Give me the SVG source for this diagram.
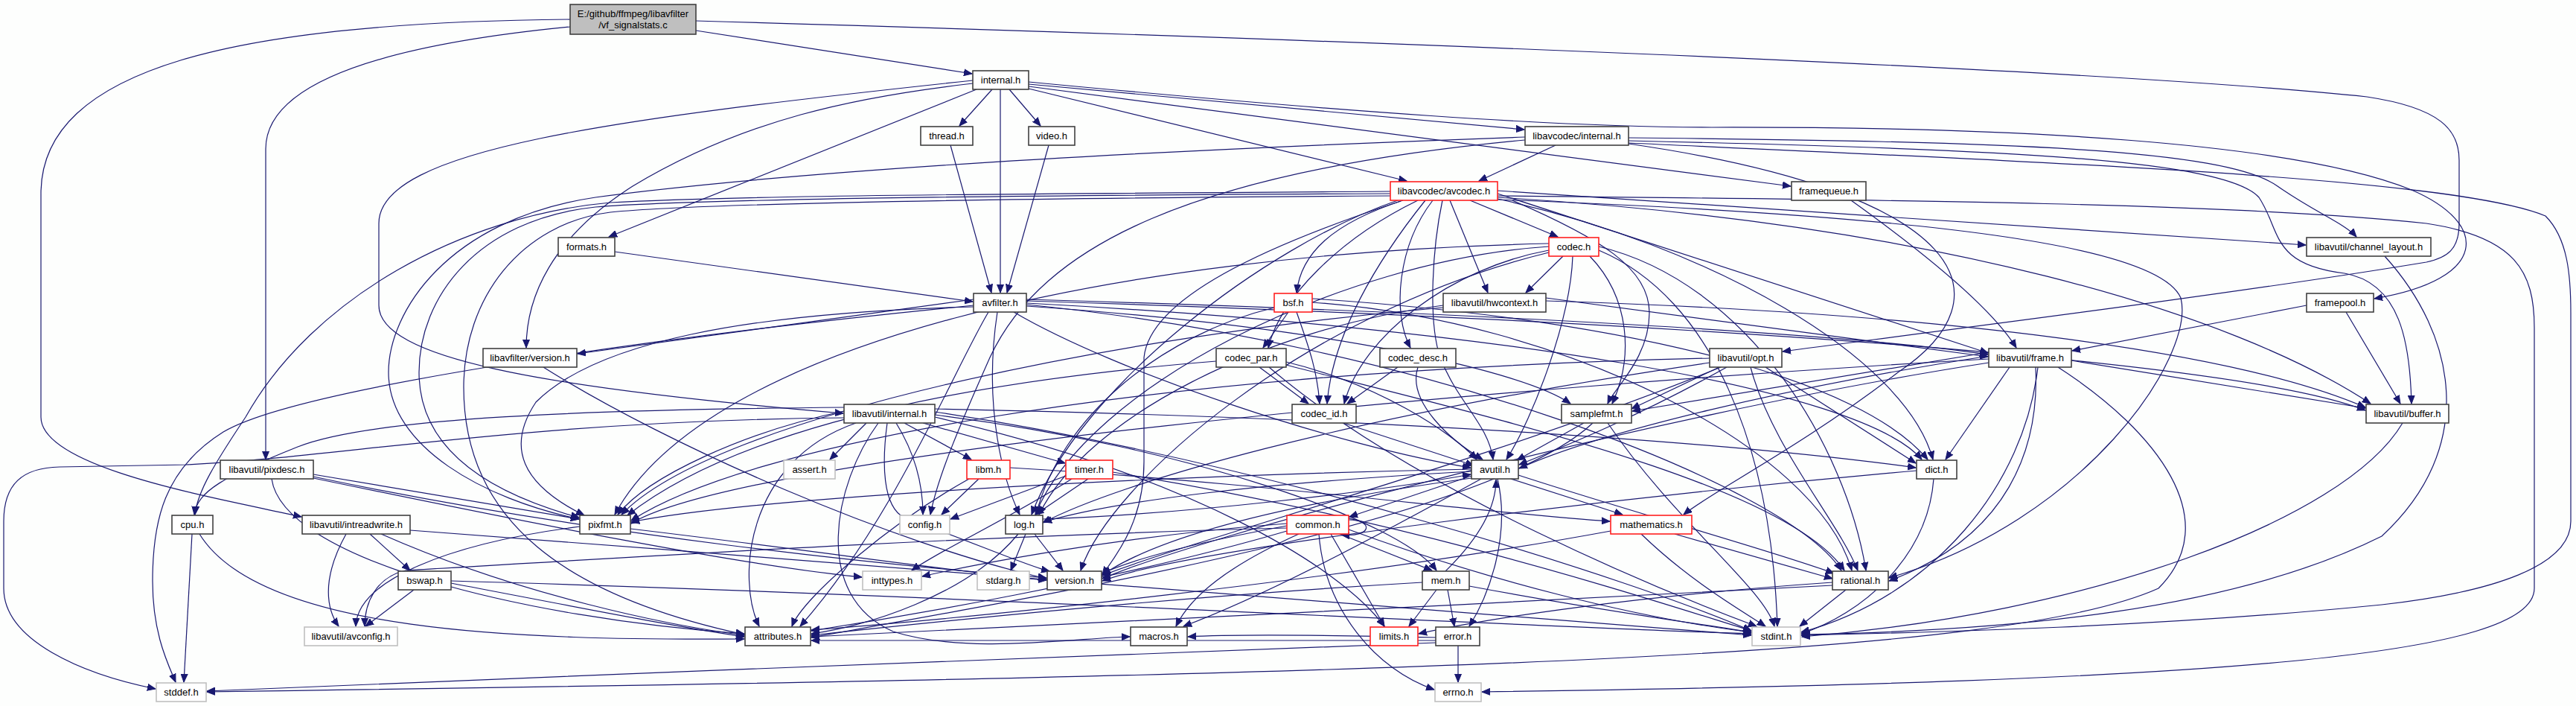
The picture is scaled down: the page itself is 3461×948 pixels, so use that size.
<svg xmlns="http://www.w3.org/2000/svg" width="3461" height="948" viewBox="0 0 3461 948">
<style>
.n rect{fill:#fff;stroke:#404040;stroke-width:1.6}
.n.r rect{stroke:#ff2020}
.n.g rect{stroke:#c0c0c0}
.n.m rect{fill:#bfbfbf}
text{font-family:"Liberation Sans",Arial,sans-serif;font-size:13px;text-anchor:middle;fill:#000}
#edges path{fill:none;stroke:#191970;stroke-width:1.2;marker-end:url(#a)}
</style>
<defs>
<marker id="a" markerUnits="userSpaceOnUse" markerWidth="12" markerHeight="10" refX="11" refY="5" orient="auto">
<path d="M0,0.5 L11,5 L0,9.5 z" fill="#191970" stroke="#191970" stroke-width="1"/>
</marker>
</defs>
<rect width="3461" height="948" fill="#fdfefd"/>
<g id="edges">
<path d="M935,41 L1306,99"/>
<path d="M935,28 C1700,50 2800,90 3180,130 C3280,145 3304,175 3304,215 L3304,300 C3304,335 3288,346 3260,352 C3000,395 2600,445 2395,472"/>
<path d="M766,36 C520,60 357,110 357,200 L357,617"/>
<path d="M766,26 C320,30 55,90 55,260 L55,560 C55,630 300,670 405,694"/>
<path d="M1333,120 L1289,169"/>
<path d="M1356,120 L1398,169"/>
<path d="M1344,120 L1344,393"/>
<path d="M1312,120 L818,318"/>
<path d="M1307,112 C1150,130 1000,160 850,250 C740,320 707,400 707,467"/>
<path d="M1307,108 C820,160 509,200 509,300 L509,410 C509,480 720,520 1133,555"/>
<path d="M1382,113 L2048,174"/>
<path d="M1382,119 L1890,243"/>
<path d="M1382,116 L2406,250"/>
<path d="M1382,110 C1800,150 2100,171 2300,171 C2700,170 3080,190 3240,255 C3345,300 3345,375 3190,401"/>
<path d="M1277,195 L1332,393"/>
<path d="M1409,195 L1353,393"/>
<path d="M826,338 L1307,405"/>
<path d="M730,493 C900,600 1200,730 1406,777"/>
<path d="M2090,195 L1987,243"/>
<path d="M2188,185 C2700,190 2990,200 3060,250 C3110,285 3150,300 3166,318"/>
<path d="M2188,189 C2700,200 2990,215 3035,265 C3065,310 3050,355 3150,367 C3225,380 3238,460 3240,542"/>
<path d="M2188,192 C2800,220 3300,240 3420,290 C3450,320 3454,370 3454,420 L3454,700 C3454,760 3350,795 3200,812 C2900,842 2600,849 2420,853"/>
<path d="M2188,193 C2650,260 2700,400 2550,500 C2420,600 2300,660 2262,691"/>
<path d="M2049,184 C1600,200 1100,225 800,265 C600,295 522,420 522,500 C522,600 650,670 778,697"/>
<path d="M2049,188 C1600,230 1400,330 1330,480 C1290,570 1260,640 1250,691"/>
<path d="M1885,269 C1790,300 1748,340 1742,393"/>
<path d="M1975,269 L2093,318"/>
<path d="M1948,269 L1999,393"/>
<path d="M1925,269 C1878,330 1870,420 1895,467"/>
<path d="M1905,269 C1800,320 1720,400 1704,467"/>
<path d="M1915,269 C1850,350 1790,450 1783,542"/>
<path d="M1938,269 C1925,330 1918,430 1935,480 C1958,540 2000,570 2006,617"/>
<path d="M1868,257 C1400,260 1000,262 820,272 C620,290 420,400 330,560 C290,620 265,660 262,691"/>
<path d="M1868,260 C1400,262 950,266 800,278 C640,295 563,400 563,500 C563,600 650,660 778,695"/>
<path d="M1868,263 C1400,266 950,272 820,285 C700,300 623,400 623,520 C623,700 760,800 1000,852"/>
<path d="M1878,269 C1700,330 1450,520 1386,691"/>
<path d="M1882,270 C1700,330 1545,400 1537,480 L1537,620 C1537,700 1500,745 1481,772"/>
<path d="M2012,263 C2500,268 3000,272 3260,300 C3380,318 3405,365 3405,440 L3405,790 C3405,880 3000,915 1991,929"/>
<path d="M2012,256 L3098,329"/>
<path d="M2012,265 C2600,300 3000,420 3185,542"/>
<path d="M2012,260 L2671,474"/>
<path d="M2012,267 C2300,330 2560,480 2597,617"/>
<path d="M2012,268 C2600,290 2900,330 2930,400 C2950,480 2800,700 2538,776"/>
<path d="M2032,269 C2150,320 2216,360 2216,420 C2216,480 2170,520 2160,542"/>
<path d="M2100,344 L2050,393"/>
<path d="M2113,344 C2110,430 2060,560 2024,617"/>
<path d="M2136,344 C2190,400 2195,480 2166,542"/>
<path d="M2081,336 C1950,360 1830,450 1806,542"/>
<path d="M2148,336 C2300,400 2380,600 2388,841"/>
<path d="M2148,331 C2350,380 2480,600 2507,766"/>
<path d="M2081,331 C1800,350 1460,520 1391,691"/>
<path d="M2081,327 C1500,340 950,460 826,691"/>
<path d="M2081,339 C1750,420 1490,650 1452,766"/>
<path d="M2077,404 C2600,420 3000,470 3178,547"/>
<path d="M2077,400 L2671,479"/>
<path d="M1939,410 C1700,440 1460,560 1396,691"/>
<path d="M1939,413 C1500,450 960,560 835,691"/>
<path d="M1731,419 L1697,467"/>
<path d="M1742,419 C1760,470 1770,500 1773,542"/>
<path d="M1763,401 C2200,430 2500,510 2590,617"/>
<path d="M1712,413 C1560,450 1425,560 1392,691"/>
<path d="M1763,406 C2100,430 2440,600 2488,766"/>
<path d="M1692,493 L1758,542"/>
<path d="M1728,486 C1850,515 1950,580 1984,617"/>
<path d="M1728,490 C2000,560 2400,650 2478,766"/>
<path d="M1634,485 C1200,520 960,600 843,692"/>
<path d="M1705,493 C1900,660 2250,800 2360,841"/>
<path d="M1878,493 L1810,542"/>
<path d="M1905,493 C1890,540 1950,592 1992,617"/>
<path d="M1805,568 L1980,625"/>
<path d="M2128,568 L2038,618"/>
<path d="M2160,568 C2250,700 2370,790 2384,841"/>
<path d="M2140,568 C2000,700 1400,800 1090,856"/>
<path d="M2310,493 L2192,549"/>
<path d="M2320,493 C2200,560 2100,600 2041,624"/>
<path d="M2352,493 C2380,600 2470,700 2496,766"/>
<path d="M2372,493 L2574,622"/>
<path d="M2297,487 C1800,560 1500,650 1401,702"/>
<path d="M2297,481 C1500,500 1000,600 848,699"/>
<path d="M2312,493 C2000,620 1600,725 1481,773"/>
<path d="M2783,484 L3178,548"/>
<path d="M2700,493 L2614,617"/>
<path d="M2672,478 C2400,520 2150,580 2041,629"/>
<path d="M2735,493 C2740,600 2700,720 2538,780"/>
<path d="M2672,473 L2193,552"/>
<path d="M2738,493 C2720,650 2600,800 2420,849"/>
<path d="M2765,493 C2900,580 2990,700 2900,790 C2700,880 2000,905 278,929"/>
<path d="M2672,482 C2000,520 1000,610 848,703"/>
<path d="M2672,487 C2200,560 1600,725 1481,777"/>
<path d="M2598,643 C2590,750 2500,825 2420,851"/>
<path d="M2575,632 C2200,665 1600,735 1481,780"/>
<path d="M3228,568 C3150,700 2800,825 2421,855"/>
<path d="M3152,419 L3225,542"/>
<path d="M3099,410 L2784,471"/>
<path d="M2487,269 C2600,350 2680,420 2709,467"/>
<path d="M3204,344 C3300,450 3330,600 3200,720 C3000,820 2700,847 2421,852"/>
<path d="M1977,639 L1813,694"/>
<path d="M2012,643 C2030,720 2000,800 1974,841"/>
<path d="M2040,638 C2200,690 2400,745 2464,770"/>
<path d="M2030,643 L2180,691"/>
<path d="M1977,642 C1700,680 1550,725 1481,772"/>
<path d="M1990,643 C1850,720 1700,800 1590,841"/>
<path d="M1977,633 C1700,648 1500,672 1402,701"/>
<path d="M1977,630 C1500,640 1000,670 848,701"/>
<path d="M1378,717 L1358,766"/>
<path d="M1390,717 L1428,766"/>
<path d="M1368,717 C1300,800 1160,842 1090,851"/>
<path d="M1401,697 C1600,690 1850,660 1976,637"/>
<path d="M1772,717 C1780,820 1850,900 1927,926"/>
<path d="M1788,717 L1860,841"/>
<path d="M1800,717 L1924,766"/>
<path d="M1812,711 C2000,780 2200,830 2353,849"/>
<path d="M1729,713 C1500,780 1200,830 1090,847"/>
<path d="M1745,717 C1650,760 1600,800 1580,841"/>
<path d="M1729,706 C1600,730 1520,752 1481,770"/>
<path d="M1729,703 C1500,720 1300,760 1239,774"/>
<path d="M1729,709 C1300,720 900,745 545,766 C505,775 490,810 490,841"/>
<path d="M1812,698 C1845,698 1845,722 1802,718"/>
<path d="M1930,792 L1893,841"/>
<path d="M1945,792 L1954,841"/>
<path d="M1974,787 C2150,820 2300,840 2353,849"/>
<path d="M1911,782 C1600,800 1300,830 1090,853"/>
<path d="M1942,767 C1990,720 2010,680 2010,644"/>
<path d="M1959,867 L1959,916"/>
<path d="M1929,863 C1500,880 800,905 278,928"/>
<path d="M1929,860 L1090,860"/>
<path d="M1929,856 C1750,852 1650,852 1596,855"/>
<path d="M2480,792 L2418,841"/>
<path d="M2462,782 C2200,800 2000,830 1906,851"/>
<path d="M2462,786 C2000,812 1300,842 1090,855"/>
<path d="M2205,717 C2270,780 2340,820 2372,841"/>
<path d="M2250,717 L2462,777"/>
<path d="M2164,713 C1800,780 1300,830 1090,846"/>
<path d="M1462,643 L1391,691"/>
<path d="M1432,639 L1277,697"/>
<path d="M1440,643 C1350,700 1260,740 1225,766"/>
<path d="M1495,634 C1900,700 2200,800 2353,847"/>
<path d="M1315,643 L1265,691"/>
<path d="M1302,643 C1200,700 1080,800 1064,841"/>
<path d="M1357,628 C1700,648 2000,690 2163,700"/>
<path d="M779,707 C600,730 480,780 478,841"/>
<path d="M847,710 C1100,740 1300,770 1406,779"/>
<path d="M421,637 L778,697"/>
<path d="M421,642 C700,700 1000,760 1158,775"/>
<path d="M365,643 C380,750 700,830 1000,851"/>
<path d="M421,640 C800,720 1200,760 1406,776"/>
<path d="M497,717 L551,766"/>
<path d="M465,717 C430,780 440,820 455,841"/>
<path d="M551,712 C1200,760 1900,820 2353,853"/>
<path d="M512,717 C700,800 900,840 1000,853"/>
<path d="M556,792 L491,841"/>
<path d="M606,783 C800,820 900,840 1000,855"/>
<path d="M606,780 C1300,800 2000,840 2353,851"/>
<path d="M258,717 L247,916"/>
<path d="M268,717 C350,850 700,860 1000,858"/>
<path d="M1164,568 L1115,617"/>
<path d="M1215,568 L1305,617"/>
<path d="M1240,568 L1431,622"/>
<path d="M1204,568 C1230,610 1240,650 1240,691"/>
<path d="M1192,568 C1185,620 1185,680 1215,695 C1300,725 1380,760 1410,767"/>
<path d="M1150,568 C1000,620 990,780 1020,841"/>
<path d="M1180,568 C1120,650 1090,800 1200,848 C1300,880 1450,856 1518,855"/>
<path d="M1256,553 C1700,620 2200,780 2353,847"/>
<path d="M1256,560 C1600,640 1800,760 1860,841"/>
<path d="M1256,557 C1600,600 1880,700 1930,766"/>
<path d="M1256,549 C1800,560 2300,590 2574,628"/>
<path d="M1134,547 C800,550 500,560 400,600 C300,640 265,660 261,691"/>
<path d="M1134,552 C1000,580 870,640 830,691"/>
<path d="M1134,561 C700,565 450,615 250,624 L80,627 C30,628 5,650 5,700 L5,790 C5,860 110,905 209,925"/>
<path d="M1308,402 L776,475"/>
<path d="M1308,410 C900,450 400,520 300,580 C220,630 205,700 205,780 C205,850 225,890 236,916"/>
<path d="M1308,412 C1000,420 800,460 720,540 C680,600 700,650 785,692"/>
<path d="M1328,419 C1280,500 1200,700 1075,841"/>
<path d="M1340,419 C1320,550 1350,650 1370,691"/>
<path d="M1362,419 C1500,500 1800,600 1976,628"/>
<path d="M1379,402 C2000,420 2500,450 2671,476"/>
<path d="M1379,404 C2200,430 3000,480 3178,551"/>
<path d="M1379,407 C2000,440 2500,520 2582,617"/>
<path d="M1379,409 C1900,460 2400,650 2474,766"/>
<path d="M1379,411 C1800,440 2050,500 2110,542"/>
</g>
<g id="main" class="n m"><rect x="766" y="6" width="169" height="40"/><text x="850.5" y="23">E:/github/ffmpeg/libavfilter</text><text x="850.5" y="38">/vf_signalstats.c</text></g>
<g id="internal" class="n"><rect x="1307" y="95" width="75" height="25"/><text x="1344.5" y="112">internal.h</text></g>
<g id="thread" class="n"><rect x="1237" y="170" width="70" height="25"/><text x="1272" y="187">thread.h</text></g>
<g id="video" class="n"><rect x="1382" y="170" width="62" height="25"/><text x="1413" y="187">video.h</text></g>
<g id="lavc_internal" class="n"><rect x="2049" y="170" width="139" height="25"/><text x="2118.5" y="187">libavcodec/internal.h</text></g>
<g id="avcodec" class="n r"><rect x="1868" y="244" width="144" height="25"/><text x="1940" y="261">libavcodec/avcodec.h</text></g>
<g id="framequeue" class="n"><rect x="2407" y="244" width="100" height="25"/><text x="2457" y="261">framequeue.h</text></g>
<g id="formats" class="n"><rect x="750" y="319" width="76" height="25"/><text x="788" y="336">formats.h</text></g>
<g id="codec" class="n r"><rect x="2081" y="319" width="67" height="25"/><text x="2114.5" y="336">codec.h</text></g>
<g id="channel_layout" class="n"><rect x="3099" y="319" width="167" height="25"/><text x="3182.5" y="336">libavutil/channel_layout.h</text></g>
<g id="avfilter" class="n"><rect x="1308" y="394" width="71" height="25"/><text x="1343.5" y="411">avfilter.h</text></g>
<g id="bsf" class="n r"><rect x="1712" y="394" width="51" height="25"/><text x="1737.5" y="411">bsf.h</text></g>
<g id="hwcontext" class="n"><rect x="1939" y="394" width="138" height="25"/><text x="2008" y="411">libavutil/hwcontext.h</text></g>
<g id="framepool" class="n"><rect x="3099" y="394" width="90" height="25"/><text x="3144" y="411">framepool.h</text></g>
<g id="lavfi_version" class="n"><rect x="649" y="468" width="126" height="25"/><text x="712" y="485">libavfilter/version.h</text></g>
<g id="codec_par" class="n"><rect x="1634" y="468" width="94" height="25"/><text x="1681" y="485">codec_par.h</text></g>
<g id="codec_desc" class="n"><rect x="1854" y="468" width="102" height="25"/><text x="1905" y="485">codec_desc.h</text></g>
<g id="opt" class="n"><rect x="2297" y="468" width="97" height="25"/><text x="2345.5" y="485">libavutil/opt.h</text></g>
<g id="frame" class="n"><rect x="2672" y="468" width="111" height="25"/><text x="2727.5" y="485">libavutil/frame.h</text></g>
<g id="lavu_internal" class="n"><rect x="1134" y="543" width="122" height="25"/><text x="1195" y="560">libavutil/internal.h</text></g>
<g id="codec_id" class="n"><rect x="1736" y="543" width="86" height="25"/><text x="1779" y="560">codec_id.h</text></g>
<g id="samplefmt" class="n"><rect x="2098" y="543" width="94" height="25"/><text x="2145" y="560">samplefmt.h</text></g>
<g id="buffer" class="n"><rect x="3179" y="543" width="111" height="25"/><text x="3234.5" y="560">libavutil/buffer.h</text></g>
<g id="pixdesc" class="n"><rect x="296" y="618" width="125" height="25"/><text x="358.5" y="635">libavutil/pixdesc.h</text></g>
<g id="assert" class="n g"><rect x="1053" y="618" width="69" height="25"/><text x="1087.5" y="635">assert.h</text></g>
<g id="libm" class="n r"><rect x="1299" y="618" width="58" height="25"/><text x="1328" y="635">libm.h</text></g>
<g id="timer" class="n r"><rect x="1432" y="618" width="63" height="25"/><text x="1463.5" y="635">timer.h</text></g>
<g id="avutil" class="n"><rect x="1977" y="618" width="63" height="25"/><text x="2008.5" y="635">avutil.h</text></g>
<g id="dict" class="n"><rect x="2575" y="618" width="54" height="25"/><text x="2602" y="635">dict.h</text></g>
<g id="cpu" class="n"><rect x="231" y="692" width="55" height="25"/><text x="258.5" y="709">cpu.h</text></g>
<g id="intreadwrite" class="n"><rect x="406" y="692" width="145" height="25"/><text x="478.5" y="709">libavutil/intreadwrite.h</text></g>
<g id="pixfmt" class="n"><rect x="779" y="692" width="68" height="25"/><text x="813" y="709">pixfmt.h</text></g>
<g id="config" class="n g"><rect x="1209" y="692" width="67" height="25"/><text x="1242.5" y="709">config.h</text></g>
<g id="log" class="n"><rect x="1351" y="692" width="50" height="25"/><text x="1376" y="709">log.h</text></g>
<g id="common" class="n r"><rect x="1729" y="692" width="83" height="25"/><text x="1770.5" y="709">common.h</text></g>
<g id="mathematics" class="n r"><rect x="2164" y="692" width="109" height="25"/><text x="2218.5" y="709">mathematics.h</text></g>
<g id="bswap" class="n"><rect x="535" y="767" width="71" height="25"/><text x="570.5" y="784">bswap.h</text></g>
<g id="inttypes" class="n g"><rect x="1159" y="767" width="79" height="25"/><text x="1198.5" y="784">inttypes.h</text></g>
<g id="stdarg" class="n g"><rect x="1313" y="767" width="70" height="25"/><text x="1348" y="784">stdarg.h</text></g>
<g id="version" class="n"><rect x="1407" y="767" width="73" height="25"/><text x="1443.5" y="784">version.h</text></g>
<g id="mem" class="n"><rect x="1911" y="767" width="63" height="25"/><text x="1942.5" y="784">mem.h</text></g>
<g id="rational" class="n"><rect x="2462" y="767" width="75" height="25"/><text x="2499.5" y="784">rational.h</text></g>
<g id="avconfig" class="n g"><rect x="409" y="842" width="125" height="25"/><text x="471.5" y="859">libavutil/avconfig.h</text></g>
<g id="attributes" class="n"><rect x="1001" y="842" width="88" height="25"/><text x="1045" y="859">attributes.h</text></g>
<g id="macros" class="n"><rect x="1519" y="842" width="76" height="25"/><text x="1557" y="859">macros.h</text></g>
<g id="limits" class="n r"><rect x="1841" y="842" width="64" height="25"/><text x="1873" y="859">limits.h</text></g>
<g id="error" class="n"><rect x="1929" y="842" width="59" height="25"/><text x="1958.5" y="859">error.h</text></g>
<g id="stdint" class="n g"><rect x="2354" y="842" width="65" height="25"/><text x="2386.5" y="859">stdint.h</text></g>
<g id="stddef" class="n g"><rect x="210" y="917" width="67" height="25"/><text x="243.5" y="934">stddef.h</text></g>
<g id="errno" class="n g"><rect x="1928" y="917" width="62" height="25"/><text x="1959" y="934">errno.h</text></g>
</svg>
